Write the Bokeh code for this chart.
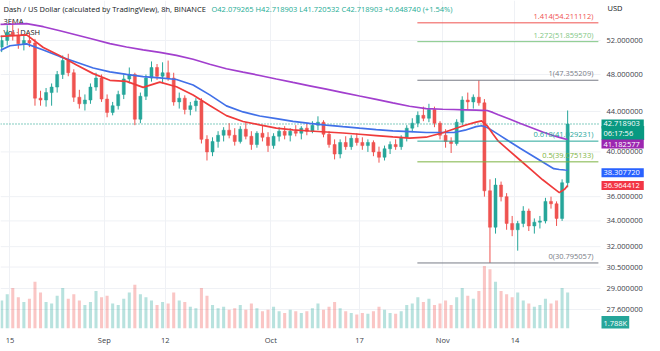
import numpy as np
import pandas as pd
from bokeh.plotting import figure
from bokeh.models import (Range1d, FixedTicker, PrintfTickFormatter, Label,
                          ColumnDataSource, LinearScale)
from bokeh.embed import file_html
from bokeh.resources import INLINE
from bokeh.core.properties import value

# ---------------- data ----------------
ORIGIN = pd.Timestamp("2022-08-15")
candle_start = "2022-08-13"   # one candle per day

opens = [51.2, 52.0, 53.0, 52.6, 51.6, 52.0, 51.7, 45.4, 45.2, 46.0, 46.6, 48.0, 49.6, 48.2, 45.5, 44.8,
         45.2, 46.6, 47.6, 45.3, 43.9, 44.6, 45.8, 47.5, 48.0, 43.2, 45.6, 47.6, 48.8, 47.8, 48.2, 47.6,
         45.0, 45.4, 44.2, 44.6, 45.1, 41.2, 40.0, 41.0, 41.6, 42.1, 41.6, 41.0, 42.2, 41.5, 40.7, 41.8,
         41.4, 40.6, 41.5, 42.0, 41.6, 42.0, 41.8, 42.3, 42.0, 42.6, 42.9, 41.7, 40.7, 39.8, 40.9, 40.5,
         41.3, 40.9, 40.6, 40.9, 40.0, 39.5, 40.3, 40.7, 40.5, 41.4, 42.3, 42.8, 43.6, 43.3, 44.2, 42.8,
         41.6, 41.0, 40.8, 42.9, 45.2, 45.0, 45.5, 44.9, 36.5, 33.5, 37.0, 36.0, 33.8, 33.3, 33.8, 34.8,
         33.6, 33.9, 34.0, 35.6, 35.4, 34.2, 37.2]
highs = [52.6, 53.9, 54.5, 53.5, 52.6, 53.0, 52.2, 46.2, 46.5, 47.0, 48.4, 50.2, 50.4, 48.6, 46.3, 45.8,
         47.0, 48.2, 48.0, 45.8, 45.0, 46.2, 48.0, 48.8, 48.2, 46.0, 48.0, 49.5, 49.2, 49.4, 49.6, 48.2,
         46.0, 45.7, 45.0, 45.4, 45.4, 41.6, 41.4, 42.0, 42.4, 42.8, 42.3, 42.5, 42.9, 42.0, 42.0, 42.6,
         41.9, 41.8, 42.4, 42.5, 42.3, 42.6, 42.5, 42.8, 43.0, 43.5, 43.1, 42.0, 41.2, 41.2, 41.5, 41.6,
         41.8, 41.4, 41.2, 41.1, 40.5, 40.6, 41.0, 41.2, 41.6, 42.6, 43.3, 44.0, 44.5, 44.8, 44.5, 43.0,
         42.2, 41.4, 43.2, 45.6, 46.0, 45.8, 47.355209, 45.3, 37.5, 37.6, 37.3, 36.3, 34.4, 34.0, 35.2, 35.0,
         34.2, 34.4, 35.9, 36.0, 35.6, 37.5, 44.1]
lows = [50.6, 51.4, 52.0, 51.0, 50.8, 51.2, 44.6, 44.6, 44.5, 44.6, 46.0, 47.5, 47.8, 45.0, 44.3, 44.1,
        44.8, 46.2, 45.0, 43.4, 43.6, 44.2, 45.3, 47.0, 42.6, 42.8, 45.2, 47.2, 47.4, 47.0, 47.3, 44.6,
        44.3, 43.7, 43.6, 44.0, 40.8, 39.2, 39.6, 40.4, 41.0, 41.3, 40.6, 40.8, 41.2, 40.2, 40.4, 41.0,
        40.0, 40.3, 41.0, 41.2, 41.0, 41.5, 41.2, 41.6, 41.8, 42.1, 41.4, 40.4, 39.3, 39.4, 40.2, 40.2,
        40.6, 40.2, 40.0, 39.6, 39.0, 39.2, 39.8, 40.2, 40.2, 41.0, 41.9, 42.4, 43.0, 42.9, 42.4, 41.2,
        40.4, 39.9, 40.6, 42.6, 44.2, 44.3, 44.6, 36.0, 30.795057, 33.0, 35.6, 33.3, 32.8, 31.7, 33.5, 33.2,
        33.0, 33.4, 33.8, 35.0, 33.6, 34.0, 36.8]
closes = [52.0, 53.0, 52.6, 51.6, 52.0, 51.7, 45.4, 45.2, 46.0, 46.6, 48.0, 49.6, 48.2, 45.5, 44.8, 45.2,
          46.6, 47.6, 45.3, 43.9, 44.6, 45.8, 47.5, 48.0, 43.2, 45.6, 47.6, 48.8, 47.8, 48.2, 47.6, 45.0,
          45.4, 44.2, 44.6, 45.1, 41.2, 40.0, 41.0, 41.6, 42.1, 41.6, 41.0, 42.2, 41.5, 40.7, 41.8, 41.4,
          40.6, 41.5, 42.0, 41.6, 42.0, 41.8, 42.3, 42.0, 42.6, 42.9, 41.7, 40.7, 39.8, 40.9, 40.5, 41.3,
          40.9, 40.6, 40.9, 40.0, 39.5, 40.3, 40.7, 40.5, 41.4, 42.3, 42.8, 43.6, 43.3, 44.2, 42.8, 41.6,
          41.0, 40.8, 42.9, 45.2, 45.0, 45.5, 44.9, 36.5, 33.5, 37.0, 36.0, 33.8, 33.3, 33.8, 34.8, 33.6,
          33.9, 34.0, 35.6, 35.4, 34.2, 37.2, 42.718903]
volumes = [180, 220, 260, 200, 170, 190, 300, 230, 170, 160, 210, 260, 190, 220, 180, 150, 170, 240,
           200, 210, 160, 150, 190, 230, 280, 220, 200, 180, 150, 170, 160, 230, 180, 170, 140, 130,
           260, 210, 150, 130, 140, 120, 130, 150, 120, 160, 130, 110, 120, 140, 110, 100, 120, 110,
           100, 110, 130, 160, 120, 140, 170, 130, 110, 100, 90, 100, 95, 110, 140, 120, 100, 95,
           110, 150, 160, 200, 170, 190, 150, 160, 180, 150, 200, 260, 210, 190, 240, 400, 380, 300,
           240, 220, 200, 230, 180, 160, 140, 150, 190, 160, 180, 260, 230]

ma_dates = ["2022-08-13", "2022-08-15", "2022-08-18", "2022-08-21", "2022-08-24", "2022-08-27",
            "2022-08-30", "2022-09-02", "2022-09-05", "2022-09-08", "2022-09-11", "2022-09-14",
            "2022-09-17", "2022-09-20", "2022-09-23", "2022-09-26", "2022-09-29", "2022-10-02",
            "2022-10-05", "2022-10-08", "2022-10-11", "2022-10-14", "2022-10-17", "2022-10-20",
            "2022-10-23", "2022-10-26", "2022-10-29", "2022-11-01", "2022-11-03", "2022-11-05",
            "2022-11-07", "2022-11-08", "2022-11-09", "2022-11-10", "2022-11-11", "2022-11-13",
            "2022-11-15", "2022-11-17", "2022-11-19", "2022-11-21", "2022-11-22", "2022-11-23",
            "2022-11-23 12:00"]
ema_slow = [54.00, 54.03, 54.12, 53.72, 53.21, 52.68, 52.16, 51.63, 51.21, 50.86, 50.56, 50.22,
            49.76, 49.17, 48.66, 48.27, 47.89, 47.49, 47.11, 46.74, 46.37, 46.00, 45.63, 45.27,
            44.89, 44.54, 44.30, 44.23, 44.20, 44.17, 44.14, 44.12, 44.10, 43.90, 43.66, 43.22,
            42.77, 42.35, 41.92, 41.55, 41.40, 41.25, 41.182577]
ema_mid = [50.73, 51.36, 51.59, 50.86, 50.07, 49.41, 48.74, 48.29, 48.01, 47.76, 47.62, 47.44,
           46.83, 45.75, 44.58, 43.95, 43.53, 43.27, 42.99, 42.78, 42.61, 42.45, 42.30, 42.16,
           42.03, 41.95, 41.87, 41.87, 41.87, 42.10, 42.46, 42.54, 42.37, 42.03, 41.69, 41.00,
           40.32, 39.69, 39.06, 38.45, 38.38, 38.33, 38.307720]
ema_fast = [52.49, 52.58, 52.70, 51.15, 50.16, 49.10, 48.10, 47.35, 47.23, 46.57, 47.15, 46.64,
            45.73, 44.62, 43.57, 42.97, 42.63, 42.31, 42.14, 42.02, 41.92, 41.82, 41.70, 41.57,
            41.44, 41.33, 41.41, 41.85, 42.22, 42.59, 42.91, 43.03, 42.54, 41.74, 41.02, 40.10,
            39.20, 38.32, 37.46, 36.71, 36.34, 36.65, 36.964412]

fib_levels = [1.414, 1.272, 1, 0.618, 0.5, 0]
fib_prices = [54.211112, 51.859570, 47.355209, 41.029231, 39.075133, 30.795057]
fib_colors = ["#ef5350", "#81c784", "#787b86", "#26a69a", "#7cb342", "#787b86"]
fib_start = "2022-10-27 10:00"
fib_end = "2022-11-29 01:00"

price_ticks = [27.6, 29.0, 30.5, 32.0, 34.0, 36.0, 40.0, 44.0, 48.0, 52.0]
tick_dates = ["2022-08-15", "2022-09-01", "2022-09-12", "2022-10-01", "2022-10-17", "2022-11-01", "2022-11-14"]
tick_labels = ["15", "Sep", "12", "Oct", "17", "Nov", "14"]

last_price = 42.718903
countdown = "06:17:56"
last_volume_label = "1.788K"
header = "Dash / US Dollar (calculated by TradingView), 8h, BINANCE"
ohlc_text = "O42.079265  H42.718903  L41.720532  C42.718903  +0.648740 (+1.54%)"

# ---------------- helpers ----------------
def days(ts):
    t = pd.to_datetime(pd.Series(list(ts)).astype(str), format="mixed")
    return ((t - ORIGIN) / pd.Timedelta(days=1)).to_numpy(dtype=float)

FONT = "Open Sans"
UP, DOWN = "#26a69a", "#ef5350"
X0, SCALE_X = -1.712, 106.42     # left edge of chart and position of the price scale (days)
X1 = X0 + (SCALE_X - X0) * 660 / 600

dates = pd.date_range(candle_start, periods=len(closes), freq="D")
xc = days(dates) + 0.5
o = np.array(opens); h = np.array(highs); l = np.array(lows); c = np.array(closes)
colors = [UP if cc >= oo else DOWN for oo, cc in zip(o, c)]
src = ColumnDataSource(dict(x=xc, h=h, l=l, top=np.maximum(o, c), bottom=np.minimum(o, c),
                            color=colors, vol=volumes))

p = figure(width=660, height=351, output_backend="svg", toolbar_location=None, title=None,
           x_range=Range1d(X0, X1), y_range=Range1d(26.39, 57.14),
           y_axis_type="log", y_axis_location="right",
           min_border_left=0, min_border_right=0, min_border_top=0, min_border_bottom=23)
p.outline_line_color = None
p.background_fill_color = "white"
p.border_fill_color = "white"
p.xgrid.grid_line_color = "#eff1f5"
p.ygrid.grid_line_color = None

p.extra_y_ranges = {"vol": Range1d(0, 2100)}
p.extra_y_scales = {"vol": LinearScale()}

# axes
yax = p.yaxis[0]
yax.fixed_location = SCALE_X
yax.ticker = FixedTicker(ticks=price_ticks)
yax.formatter = PrintfTickFormatter(format="%.6f")
xax = p.xaxis[0]
xt = days(tick_dates)
xax.ticker = FixedTicker(ticks=[float(t) for t in xt])
xax.major_label_overrides = {float(t): s for t, s in zip(xt, tick_labels)}
for ax in (xax, yax):
    ax.axis_line_color = None
    ax.major_tick_line_color = None
    ax.minor_tick_line_color = None
    ax.major_tick_out = 0
    ax.major_tick_in = 0
    ax.minor_tick_out = 0
    ax.major_label_text_font = FONT
    ax.major_label_text_font_size = "7.5px"
    ax.major_label_text_color = "#3b3e48"
    ax.major_label_standoff = 6

# horizontal grid lines, only over the chart area
nt = len(price_ticks)
p.segment(x0=[X0] * nt, x1=[SCALE_X] * nt, y0=price_ticks, y1=price_ticks,
          line_color="#eff1f5", line_width=1)

# volume
p.vbar(x="x", width=0.55, top="vol", bottom=0, y_range_name="vol", source=src,
       fill_color="color", fill_alpha=0.33, line_color=None)

# last price line
p.segment(x0=[X0], x1=[SCALE_X], y0=[last_price], y1=[last_price], line_color="#089981",
          line_dash="1 2", line_width=1)

# candles
p.segment(x0="x", y0="h", x1="x", y1="l", line_color="color", line_width=1, source=src)
p.vbar(x="x", width=0.55, top="top", bottom="bottom", fill_color="color", line_color="color",
       line_width=0.5, source=src)

# moving averages
mx = days(ma_dates)
p.line(mx, ema_slow, line_color="#a23fce", line_width=1.7)
p.line(mx, ema_mid, line_color="#4170e8", line_width=1.7)
p.line(mx, ema_fast, line_color="#ef3b3b", line_width=1.7)

# fibonacci
fx0 = float(days([fib_start])[0]); fx1 = float(days([fib_end])[0])
n = len(fib_prices)
p.segment(x0=[fx0] * n, x1=[fx1] * n, y0=fib_prices, y1=fib_prices, line_color=fib_colors, line_width=1)
fib_text = [f"{lv:g}({pr:.6f})" for lv, pr in zip(fib_levels, fib_prices)]
p.text(x=[fx1] * n, y=fib_prices, text=fib_text, text_color=fib_colors, text_align="right",
       text_baseline="bottom", x_offset=-5, y_offset=-2, text_font=value(FONT),
       text_font_size="7.5px")

# header texts
def hdr(text, x, y_from_top, color, level="underlay"):
    p.add_layout(Label(x=x, y=328 - y_from_top, x_units="screen", y_units="screen", text=text,
                       text_font=FONT, text_font_size="7.5px", text_color=color,
                       text_baseline="middle", level=level))

hdr(header, 3, 8, "#131722")
hdr(ohlc_text, 211, 8, "#22ab94")
hdr("3EMA", 3, 20, "#131722")
hdr("Vol · DASH", 3, 31, "#131722")
hdr("USD", 607, 7, "#131722", level="annotation")

# price tags on the scale
def tag(text, y, color, y_offset=0, pad=(2, 4, 2, 2)):
    p.add_layout(Label(x=601, y=y, x_units="screen", y_units="data", text=text,
                       text_font=FONT, text_font_size="7.5px", text_color="white",
                       text_baseline="middle", y_offset=y_offset, padding=pad,
                       background_fill_color=color, background_fill_alpha=1.0))

tag(countdown, last_price, "#089981", y_offset=-9, pad=(2, 11, 2, 2))
tag(f"{last_price:.6f}", last_price, "#089981")
tag(f"{ema_slow[-1]:.6f}", ema_slow[-1], "#9c27b0", y_offset=-4.5)
tag(f"{ema_mid[-1]:.6f}", ema_mid[-1], "#2962ff", y_offset=-2.5)
tag(f"{ema_fast[-1]:.6f}", ema_fast[-1], "#f23645")
p.add_layout(Label(x=601, y=5.5, x_units="screen", y_units="screen", text=last_volume_label,
                   text_font=FONT, text_font_size="7.5px", text_color="white",
                   text_baseline="middle", padding=2, background_fill_color="#26a69a"))

open("out.html", "w").write(file_html(p, INLINE))
